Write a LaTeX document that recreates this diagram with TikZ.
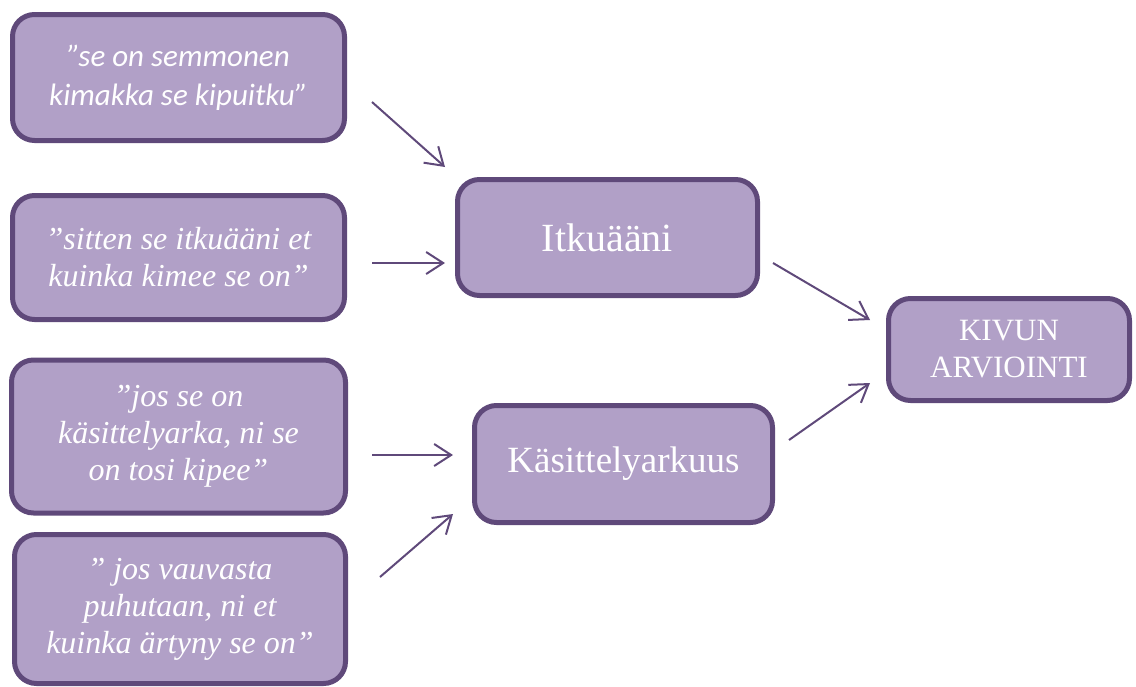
\documentclass[tikz,border=0pt]{standalone}
\usepackage{fontspec}
\setmainfont{Liberation Serif}
\newfontfamily\calfont{Carlito}
\usetikzlibrary{arrows.meta}
\definecolor{boxfill}{HTML}{B1A0C7}
\definecolor{boxline}{HTML}{5F497A}

\begin{document}
\begin{tikzpicture}[x=1pt,y=-1pt,
    box/.style={draw=boxline,fill=boxfill,line width=5pt,rounded corners=22pt,
        text=white,align=center,inner sep=0pt},
    quotefont/.style={font=\itshape\fontsize{32}{37}\selectfont},
    link/.style={draw=boxline,line width=2pt,-{Straight Barb[length=17pt,width=22pt]}}]
    \useasboundingbox (0,0) rectangle (1136,686);
    % Quotes
    \node[box,minimum width=332pt,minimum height=126pt,
        font=\calfont\itshape\fontsize{31}{39}\selectfont] (Q1) at (178.5,77.5)
        {”se on semmonen\\kimakka se kipuitku”};
    \node[box,quotefont,minimum width=332pt,minimum height=124pt] (Q2) at (178.5,257.5)
        {”sitten se itkuääni et\\kuinka kimee se on”};
    \node[box,quotefont,minimum width=334pt,minimum height=153pt] (Q3) at (178.5,436.5)
        {”jos se on\\käsittelyarka, ni se\\on tosi kipee”};
    \node[box,quotefont,minimum width=331pt,minimum height=149pt] (Q4) at (180,609)
        {” jos vauvasta\\puhutaan, ni et\\kuinka ärtyny se on”};
    % Themes
    \node[box,minimum width=300pt,minimum height=116pt,font=\fontsize{40}{44}\selectfont] (T1) at (607.5,237.5) {Itkuääni};
    \node[box,minimum width=298pt,minimum height=117pt,font=\fontsize{37}{44}\selectfont] (T2) at (623.5,464) {Käsittelyarkuus};
    % Result
    \node[box,minimum width=241pt,minimum height=102pt,font=\fontsize{31}{37}\selectfont] (R) at (1009,349.5) {KIVUN\\ARVIOINTI};
    % Arrow ends
    \coordinate (Q1s) at (372,102);
    \coordinate (Q1e) at (445,167);
    \coordinate (Q2s) at (372,263);
    \coordinate (Q2e) at (445,263);
    \coordinate (Q3s) at (372,455);
    \coordinate (Q3e) at (453,455);
    \coordinate (Q4s) at (380,577);
    \coordinate (Q4e) at (453,514);
    \coordinate (T1s) at (773,263);
    \coordinate (T1e) at (870,320);
    \coordinate (T2s) at (789,440);
    \coordinate (T2e) at (870,383);
    % Links
    \draw [link] (Q1s)--(Q1e);
    \draw [link] (Q2s)--(Q2e);
    \draw [link] (Q3s)--(Q3e);
    \draw [link] (Q4s)--(Q4e);
    \draw [link] (T1s)--(T1e);
    \draw [link] (T2s)--(T2e);
\end{tikzpicture}
\end{document}
